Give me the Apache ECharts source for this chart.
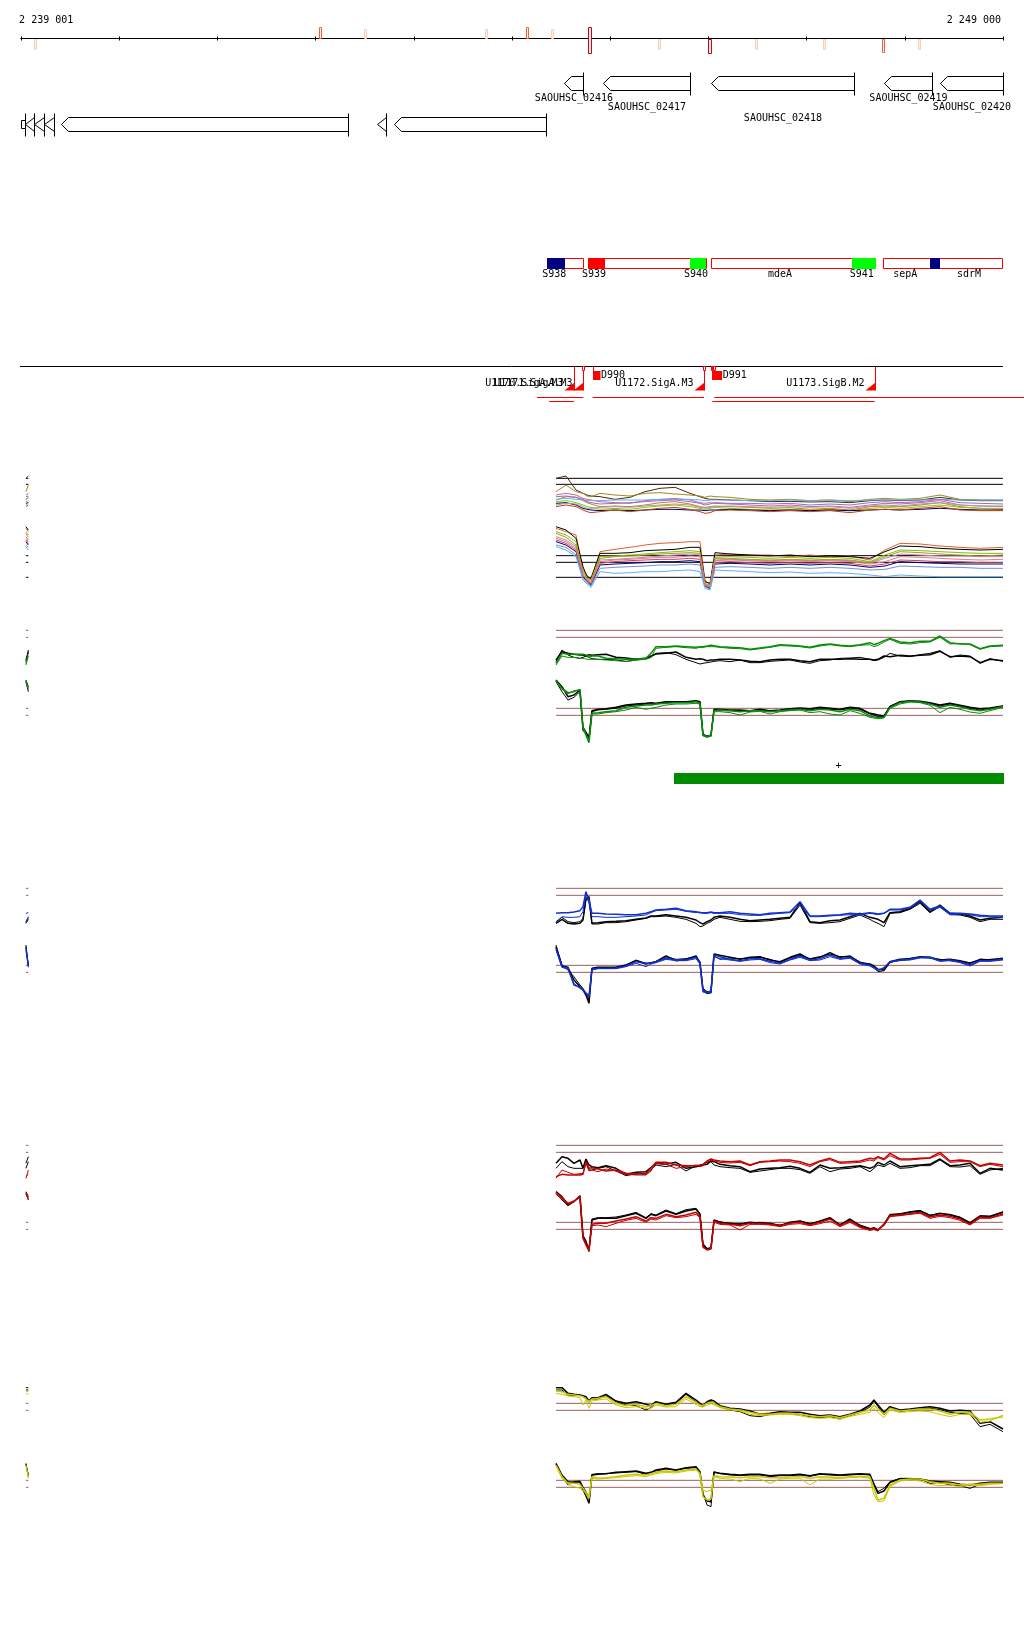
<!DOCTYPE html>
<html>
<head>
<meta charset="utf-8">
<title>SAOUHSC_02416 - SAOUHSC_02420</title>
<script src="https://cdn.jsdelivr.net/npm/echarts@6.0.0/dist/echarts.min.js"></script>
<style>
  html, body { margin: 0; padding: 0; background: #fff; }
  #chart { width: 1024px; height: 1640px; }
</style>
</head>
<body>
<div id="chart"></div>
<script>
// genome window
const axisStart = 2239000
const axisEnd = 2249000
const tickStep = 1000
const endLabelPos = [2239001, 2249000]
const endLabels = ['2 239 001', '2 249 000']

// sites around the axis: dir 1 = above, -1 = below, 0 = both; score 1..3
const sitePos = [2239138, 2242045, 2242503, 2243735, 2244153, 2244407, 2244784, 2245497, 2246006, 2246485, 2247177, 2247778, 2248144]
const siteDir = [-1, 1, 1, 1, 1, 1, 0, -1, -1, -1, -1, -1, -1]
const siteScore = [1, 2, 1, 1, 2, 1, 3, 1, 3, 1, 1, 2, 1]

// genes, strand -1 = reverse, 0 = box only
const geneName = ['SAOUHSC_02416', 'SAOUHSC_02417', 'SAOUHSC_02418', 'SAOUHSC_02419', 'SAOUHSC_02420', '', '', '', '', '', '', '']
const geneStart = [2244529, 2244930, 2246026, 2247788, 2248358, 2239000, 2239036, 2239132, 2239234, 2239407, 2242625, 2242798]
const geneEnd = [2244726, 2245812, 2247482, 2248277, 2249000, 2239036, 2239132, 2239234, 2239336, 2242330, 2242717, 2244346]
const geneLane = [0, 0, 0, 0, 0, 1, 1, 1, 1, 1, 1, 1]
const geneStrand = [-1, -1, -1, -1, -1, 0, -1, -1, -1, -1, -1, -1]

// segments: 0 = outline, 1 = navy, 2 = red, 3 = green
const featStart = [2244356, 2244771, 2246023, 2247781, 2244356, 2244771, 2245809, 2247462, 2248256]
const featEnd = [2244726, 2245968, 2247693, 2248993, 2244532, 2244934, 2245968, 2247693, 2248351]
const featKind = [0, 0, 0, 0, 1, 2, 3, 3, 1]
const featLabel = ['S938', 'S939', 'S940', 'mdeA', 'S941', 'sepA', 'sdrM']
const featLabelPos = [2244431, 2244835, 2245874, 2246729, 2247561, 2248005, 2248653]

// promoters / transcripts
const tssPos = [2244631, 2244723, 2245952, 2247693]
const tssName = ['U1170.SigA.M3', 'U1171.SigA.M3', 'U1172.SigA.M3', 'U1173.SigB.M2']
const startBoxPos = [2244716, 2245942, 2246023, 2246044]
const dStart = [2244825, 2246040]
const dEnd = [2244906, 2246145]
const dName = ['D990', 'D991']
const txStart = [2244254, 2244822, 2246060, 2244377, 2246040]
const txEnd = [2244726, 2245955, 2249214, 2244631, 2247693]
const txLane = [0, 0, 0, 1, 1]
const plusStart = 2245650
const plusEnd = 2249000

// probe positions
const probePos = [2244448, 2244509, 2244570, 2244631, 2244692, 2244723, 2244753, 2244784, 2244814, 2244876,
  2244957, 2245059, 2245161, 2245263, 2245364, 2245415, 2245466, 2245568, 2245670, 2245772,
  2245874, 2245914, 2245945, 2245986, 2246026, 2246057, 2246118, 2246220, 2246322, 2246423,
  2246525, 2246627, 2246729, 2246831, 2246933, 2247034, 2247136, 2247238, 2247340, 2247442,
  2247544, 2247645, 2247686, 2247727, 2247788, 2247849, 2247951, 2248053, 2248155, 2248256,
  2248358, 2248460, 2248562, 2248664, 2248766, 2248867, 2249000]
const probePos1 = [2244448, 2244550, 2244652, 2244723, 2244764, 2244804, 2244896, 2245049, 2245201, 2245354,
  2245507, 2245660, 2245812, 2245914, 2245965, 2246016, 2246067, 2246220, 2246423, 2246627,
  2246831, 2247034, 2247238, 2247442, 2247645, 2247798, 2247951, 2248155, 2248358, 2248562,
  2248766, 2249000]

const refSpan = [2244448, 2249000]
const stubSpan = [2239050, 2239075]
const p1Refs = [350, 332, 118, 98, 53]
const p2Refs = [359, 338, 125, 104]
const p3Refs = [365, 344, 134, 113]
const p4Refs = [359, 338, 128, 107]
const p5Refs = [335, 314, 104, 83]

// panel 1, all conditions
const p1Top1 = [350,357,315,305,300,297,295,287,293,310,320,323,305,295,290,287,287,285,283,280,281,279,280,277,283,285,283,285,293,285,283,283]
const p1Top2 = [310,330,310,305,297,295,305,300,297,305,307,303,300,297,293,297,295,293,287,285,287,283,285,280,287,290,287,290,300,287,285,285]
const p1Top3 = [285,295,293,283,277,273,265,267,265,270,277,280,273,265,263,265,267,265,263,260,262,257,260,255,265,267,265,270,277,265,260,257]
const p1Top4 = [300,305,300,290,287,285,280,277,275,283,287,290,285,277,275,277,275,273,270,267,270,265,267,263,270,275,273,277,283,270,267,265]
const p1Top5 = [287,290,287,285,283,283,283,285,285,285,287,287,287,285,283,285,285,285,283,283,285,283,285,283,285,285,285,285,287,285,285,285]
const p1Top6 = [280,283,277,270,265,263,257,260,257,263,267,270,265,260,257,260,263,260,257,255,257,255,257,253,260,263,260,265,270,263,260,260]
const p1Top7 = [275,277,270,260,257,255,253,255,253,255,257,257,255,255,253,255,255,257,255,253,255,253,255,253,255,257,255,257,260,257,255,255]
const p1Top8 = [265,270,265,255,250,247,250,255,250,255,260,263,257,250,245,247,253,255,253,250,253,250,253,247,255,257,255,260,265,255,253,253]
const p1Top9 = [295,297,293,287,280,277,273,275,277,280,283,285,280,275,270,273,277,275,275,273,275,270,273,270,277,280,277,280,287,277,275,273]
const p1Top10 = [270,275,273,265,260,260,263,265,263,267,270,273,270,263,260,263,265,267,265,263,265,263,265,260,267,270,267,273,277,270,267,267]
const p1Bot1 = [200,190,180,75,60,45,130,137,143,150,155,157,160,160,45,30,120,123,120,120,115,120,115,117,105,135,155,153,147,143,140,143]
const p1Bot2 = [205,195,170,85,55,50,125,125,127,133,135,137,143,143,40,35,127,123,120,117,120,115,117,115,110,130,147,145,140,137,135,137]
const p1Bot3 = [190,180,160,65,50,45,115,117,120,123,127,130,133,130,35,30,113,115,113,110,113,110,113,110,100,120,135,133,130,127,125,125]
const p1Bot4 = [175,165,145,60,45,35,105,107,110,113,117,120,123,120,30,25,105,107,105,103,105,103,105,103,95,110,123,120,117,117,115,115]
const p1Bot5 = [185,173,150,70,53,40,110,115,117,120,123,125,127,125,33,27,110,110,107,105,107,105,107,105,97,115,130,127,123,120,117,120]
const p1Bot6 = [160,150,130,55,40,30,90,93,95,97,100,100,103,100,27,20,93,95,93,90,93,90,93,90,83,87,100,97,95,93,93,93]
const p1Bot7 = [165,155,135,57,43,33,95,100,103,105,107,107,110,107,29,23,97,100,97,95,97,95,97,95,87,93,105,103,100,100,97,97]
const p1Bot8 = [150,143,120,50,37,27,80,83,85,87,90,90,93,90,25,17,83,85,83,80,83,80,83,80,75,77,87,85,83,83,80,80]
const p1Bot9 = [145,135,115,45,33,23,70,65,67,70,70,73,75,70,20,15,75,73,70,67,69,65,67,65,60,55,60,57,55,55,55,55]
const p1Bot10 = [170,160,140,60,47,37,100,105,107,110,113,113,117,115,31,25,103,105,103,100,103,100,103,100,93,100,115,113,110,107,105,107]

// panel 2 (green)
const p2TopGreen = [260,290,287,287,287,287,285,278,282,282,275,274,272,273,275,290,310,310,312,310,308,310,310,312,314,313,310,308,307,302,306,310,316,314,312,308,315,318,314,312,316,322,316,320,328,335,324,322,326,326,342,322,318,318,304,312,314]
const p2TopGreenThin = [255,282,278,278,275,275,273,272,272,272,270,268,265,270,272,278,305,308,310,307,305,308,308,310,310,310,308,305,304,300,304,308,313,312,310,306,312,316,312,310,314,316,310,314,324,332,320,318,322,324,338,318,320,316,302,310,312]
const p2TopBlack = [270,295,290,287,285,285,282,286,284,286,287,278,276,272,275,282,288,290,294,278,272,274,272,268,270,270,272,272,270,266,265,270,272,272,268,265,272,272,272,274,272,272,270,272,282,280,284,282,284,286,296,280,282,280,262,272,268]
const p2TopBlackThin = [265,300,285,278,275,278,282,278,274,272,272,270,266,270,274,278,290,292,286,272,262,258,260,262,264,266,268,265,270,262,262,266,268,270,264,260,268,270,275,276,278,272,268,270,278,290,282,280,286,290,298,278,285,282,260,274,266]
const p2BotBlack = [210,190,160,165,180,60,50,35,118,122,124,128,135,138,140,142,140,145,145,145,148,145,45,40,42,122,122,120,120,118,122,118,120,124,126,124,128,125,122,128,125,110,108,105,102,130,145,148,146,142,135,140,134,128,124,126,132]
const p2BotGreen = [208,185,172,175,182,65,45,22,110,112,115,118,128,132,135,135,138,140,142,142,145,140,45,40,45,118,120,118,115,118,118,115,118,120,122,118,122,120,115,122,118,102,100,97,98,128,142,146,144,138,128,135,130,122,118,122,130]
const p2BotBlackThin = [205,175,150,158,175,70,55,40,115,120,122,125,132,135,138,138,138,142,144,144,145,142,48,42,45,120,118,118,118,116,120,116,118,122,124,120,125,122,120,125,122,108,105,100,100,132,144,146,144,140,132,138,132,125,120,124,132]
const p2BotGreenThin = [205,182,168,178,180,68,48,30,108,108,112,115,120,128,122,125,128,135,138,138,140,138,42,38,42,115,115,112,105,114,116,108,115,118,120,112,115,108,105,118,110,98,96,94,96,125,138,144,142,134,112,128,122,114,110,118,128]

// panel 3 (blue)
const p3TopBlue = [290,292,292,294,298,310,355,330,290,290,288,287,286,286,290,295,300,302,305,298,295,292,292,292,294,292,292,295,290,288,286,290,292,294,325,282,282,284,286,290,288,292,290,288,290,302,302,308,330,302,312,290,290,288,284,282,282]
const p3TopBlueThin = [262,280,278,278,280,295,350,320,280,280,278,278,280,282,285,292,298,300,302,296,292,294,290,290,292,290,290,290,286,284,284,287,290,292,315,280,280,282,284,286,285,290,288,286,290,300,300,306,328,300,308,286,288,286,280,280,278]
const p3TopBlack = [260,272,260,258,260,270,335,340,260,262,265,266,268,272,276,282,282,286,282,278,270,262,258,265,270,278,282,278,272,268,270,272,275,278,322,265,262,268,270,280,290,278,275,272,262,292,295,305,325,295,315,290,288,282,270,275,278]
const p3TopBlackThin = [265,278,265,262,265,275,330,332,258,258,262,262,265,270,275,280,280,282,278,272,260,250,252,260,265,272,278,272,266,265,266,268,272,275,315,262,260,262,265,275,285,272,265,260,250,290,292,302,320,292,310,286,285,278,265,272,272]
const p3BotBlack = [190,132,128,90,70,60,45,20,125,128,128,128,135,148,138,142,145,162,148,152,162,142,60,50,52,168,164,158,152,158,160,150,145,158,168,152,158,172,158,162,142,138,132,122,120,145,152,154,160,158,150,152,148,140,152,150,155]
const p3BotBlue = [185,130,125,75,68,60,50,40,122,125,125,126,132,145,140,140,145,155,150,150,158,140,55,52,55,165,160,152,148,154,154,146,140,152,162,150,154,165,154,158,140,135,128,120,125,145,150,152,158,158,148,150,145,135,148,148,152]
const p3BotBlackThin = [195,135,120,100,75,65,50,30,122,126,126,128,134,150,140,140,146,160,152,154,160,144,65,55,55,162,152,156,154,156,158,152,142,156,164,154,160,168,160,160,144,136,128,115,118,142,150,155,158,156,152,148,145,142,150,152,154]
const p3BotBlueThin = [180,128,122,80,65,58,52,45,120,124,124,124,130,140,130,138,142,152,148,148,154,138,58,54,58,160,154,150,146,150,152,142,138,150,158,148,150,160,152,155,138,132,125,118,128,144,148,150,156,156,146,148,142,132,146,146,150]

// panel 4 (red)
const p4TopBlack = [305,325,320,305,315,290,318,300,295,292,298,290,272,278,280,292,305,302,308,290,295,298,300,302,312,310,302,298,295,280,288,290,292,296,290,278,300,290,292,295,298,290,295,308,300,312,295,298,300,302,318,298,300,305,275,290,285]
const p4TopBlackThin = [290,310,295,290,290,290,315,285,285,290,295,282,268,274,272,285,300,295,302,282,298,295,302,308,310,300,295,292,290,278,282,286,290,290,286,275,295,280,288,290,295,280,290,300,295,305,290,292,298,298,315,295,294,298,272,285,290]
const p4TopRed = [265,272,270,270,270,272,310,290,292,288,282,285,275,272,275,290,308,308,300,298,298,300,302,312,318,315,312,310,312,300,310,312,315,315,310,300,312,320,308,310,312,320,318,325,318,335,318,318,320,322,338,312,315,312,298,305,300]
const p4TopRedThin = [260,285,278,272,274,275,305,282,285,280,288,282,272,270,270,282,305,302,290,295,300,295,298,308,315,312,308,306,308,298,308,310,312,310,305,295,310,316,305,306,308,315,312,322,315,328,315,315,318,320,332,308,310,310,295,302,295]
const p4BotBlack = [220,205,180,190,208,85,70,45,135,140,140,140,148,155,140,152,148,162,152,162,168,152,60,48,50,135,128,125,122,128,125,125,118,128,132,122,132,142,120,138,118,108,112,105,120,150,152,158,162,148,155,150,142,125,146,145,158]
const p4BotRed = [218,202,185,192,205,80,60,42,122,125,125,132,138,145,132,142,140,152,145,150,158,145,55,45,48,132,125,122,118,125,124,122,118,125,128,120,128,138,118,132,115,105,110,104,122,148,150,154,158,144,150,146,138,122,144,142,154]
const p4BotBlackThin = [215,195,178,192,202,90,72,40,138,142,142,144,150,158,142,154,150,165,154,166,170,154,65,50,52,134,130,122,124,126,128,124,120,126,132,125,130,140,122,135,120,110,108,106,124,152,154,160,164,150,154,152,144,128,148,147,160]
const p4BotRedThin = [212,198,182,190,204,82,65,50,118,120,115,125,134,140,128,138,135,148,142,145,152,142,52,46,50,128,122,120,105,122,122,120,115,122,124,118,124,132,115,128,112,104,106,102,120,145,148,152,155,140,146,142,134,120,140,140,150]

// panel 5 (yellow)
const p5TopBlack = [382,382,365,362,360,358,355,342,352,352,362,342,335,340,332,328,340,332,338,365,345,335,328,340,345,342,328,320,318,312,302,305,310,308,308,302,298,300,295,302,312,330,345,330,308,325,315,318,322,325,320,312,314,312,275,280,258]
const p5TopBlackThin = [375,375,358,358,360,355,350,338,348,348,358,340,330,328,315,322,338,330,335,362,340,330,325,338,340,335,325,315,310,298,295,302,305,305,302,295,292,295,288,298,308,324,342,325,300,322,310,315,318,320,316,308,305,302,265,272,250]
const p5TopYellow = [372,370,362,360,358,355,348,340,348,350,355,335,328,332,325,328,335,328,332,355,338,330,328,335,338,335,325,318,315,308,302,302,305,305,302,298,295,298,292,300,308,315,330,318,302,320,312,315,318,318,312,302,308,308,285,288,295]
const p5TopYellowThin = [365,362,358,355,352,330,345,320,342,345,348,330,322,325,320,320,330,324,325,348,332,325,324,330,334,330,322,315,312,302,298,300,302,302,298,292,290,292,288,296,302,308,320,308,292,315,308,310,312,310,302,295,302,302,278,282,300]
const p5BotBlack = [155,120,100,98,100,75,58,35,120,122,124,128,130,132,125,128,135,140,135,142,145,130,60,42,40,128,125,122,120,122,122,118,120,120,122,118,124,122,120,122,124,122,90,65,72,98,108,108,108,102,100,98,92,90,95,98,98]
const p5BotYellow = [150,115,95,95,92,80,65,50,115,110,112,115,120,122,120,124,128,132,130,135,138,125,55,45,48,118,115,114,112,115,115,112,112,115,115,110,115,114,112,115,116,114,80,45,50,90,105,108,108,100,95,95,90,92,92,95,95]
const p5BotBlackThin = [152,115,90,100,102,85,70,50,122,124,124,126,128,130,122,128,132,138,134,140,142,128,65,30,25,130,124,120,118,120,120,115,118,118,120,116,122,120,118,120,122,120,95,70,80,100,110,110,108,95,98,90,88,80,92,95,96]
const p5BotYellowThin = [148,110,92,85,80,72,68,60,110,108,110,112,115,118,115,120,124,128,126,132,135,122,75,70,75,115,110,108,100,110,108,95,108,110,110,90,108,108,110,112,114,110,60,40,42,85,102,105,102,92,88,90,85,90,88,92,94]

const FONT = '10px "DejaVu Sans Mono", monospace'
const half = v => Math.round(v) + 0.5
const xAt = (api, pos) => api.coord([pos, 0])[0]

function renderEnds(params, api) {
  const i = params.dataIndex
  return {
    type: 'text',
    style: { text: endLabels[i], x: xAt(api, api.value(0)) - 2, y: params.coordSys.y - 18.5,
      align: i === 0 ? 'left' : 'right', verticalAlign: 'middle', font: FONT, fill: '#000' }
  }
}

const siteStroke = ['', '#f6cfc0', '#f0603c', '#b0101c']
const siteFill = ['', '#fdeee8', '#fff0ec', '#fde4e4']
const siteUp = [0, 9, 11, 11]
const siteDown = [0, 10, 13, 14]
function renderSite(params, api) {
  const x = Math.round(xAt(api, api.value(0)))
  const dir = api.value(1), s = api.value(2)
  const y0 = Math.floor(params.coordSys.y)
  const top = dir >= 0 ? y0 - siteUp[s] : y0 + 1
  const bottom = dir <= 0 ? y0 + 1 + siteDown[s] : y0
  return {
    type: 'rect',
    shape: { x: x - 0.5, y: top + 0.5, width: s === 3 ? 3 : 2, height: bottom - top },
    style: { fill: siteFill[s], stroke: siteStroke[s], lineWidth: 1 }
  }
}

const geneY = [44.5, 85.5]
const geneLabelY = [59.5, 68.5, 79.5]
function renderGene(params, api) {
  const i = params.dataIndex
  const cs = params.coordSys
  const a = half(xAt(api, api.value(0))), b = half(xAt(api, api.value(1)))
  const cy = cs.y + geneY[api.value(2)]
  const t = half(cy - 7), bt = half(cy + 7), m = (t + bt) / 2
  let points
  if (api.value(3) === 0) points = [[a, t + 3], [b, t + 3], [b, bt - 3], [a, bt - 3]]
  else if (b - a <= 10) points = [[a, m], [b, t], [b, bt]]
  else points = [[a, m], [a + 7, t], [b, t], [b, bt], [a + 7, bt]]
  const children = [
    { type: 'polygon', shape: { points }, style: { fill: '#fff', stroke: '#000', lineWidth: 1 } },
    { type: 'line', shape: { x1: b, y1: t - 4, x2: b, y2: bt + 5 }, style: { stroke: '#000', lineWidth: 1 } }
  ]
  if (geneName[i]) {
    children.push({ type: 'text', style: { text: geneName[i], x: (a + b) / 2, y: cs.y + geneLabelY[i % 3],
      align: 'center', verticalAlign: 'middle', font: FONT, fill: '#000' } })
  }
  return { type: 'group', children }
}

const featColor = ['#fff', '#000080', '#ff0000', '#00ff00']
function renderFeat(params, api) {
  const cs = params.coordSys
  const x1 = xAt(api, api.value(0)), x2 = xAt(api, api.value(1)), k = api.value(2)
  const top = cs.y + 220
  if (k === 0) {
    return { type: 'rect', shape: { x: half(x1), y: top, width: Math.round(x2 - x1), height: 10 },
      style: { fill: '#fff', stroke: '#ff0000', lineWidth: 1 } }
  }
  return { type: 'rect', shape: { x: Math.round(x1), y: top - 0.5, width: Math.round(x2) - Math.round(x1) + 1, height: 11 },
    style: { fill: featColor[k] } }
}
function renderFeatLabel(params, api) {
  return { type: 'text', style: { text: featLabel[params.dataIndex], x: xAt(api, api.value(0)), y: params.coordSys.y + 236.2,
    align: 'center', verticalAlign: 'middle', font: FONT, fill: '#000' } }
}

function renderTrackLine(params, api) {
  const y = params.coordSys.y + 328
  return { type: 'line', shape: { x1: xAt(api, api.value(0)) - 1, y1: y, x2: xAt(api, api.value(1)), y2: y },
    style: { stroke: '#000', lineWidth: 1 } }
}
function renderTss(params, api) {
  const cs = params.coordSys
  const x = half(xAt(api, api.value(0)))
  const y0 = cs.y + 328, y1 = cs.y + 352
  return { type: 'group', children: [
    { type: 'line', shape: { x1: x, y1: y0, x2: x, y2: y1 }, style: { stroke: '#ff0000', lineWidth: 1 } },
    { type: 'polygon', shape: { points: [[x - 10, y1], [x, y1], [x, y1 - 8]] }, style: { fill: '#ff0000' } },
    { type: 'text', style: { text: tssName[params.dataIndex], x: x - 11, y: cs.y + 344.8,
      align: 'right', verticalAlign: 'middle', font: FONT, fill: '#000' } }
  ] }
}
function renderStartBox(params, api) {
  const x = half(xAt(api, api.value(0)))
  return { type: 'rect', shape: { x: x, y: params.coordSys.y + 328, width: 2, height: 4 },
    style: { fill: '#fff', stroke: '#ff0000', lineWidth: 1 } }
}
function renderD(params, api) {
  const cs = params.coordSys
  const x1 = half(xAt(api, api.value(0))), x2 = xAt(api, api.value(1))
  return { type: 'group', children: [
    { type: 'line', shape: { x1: x1, y1: cs.y + 328, x2: x1, y2: cs.y + 333 }, style: { stroke: '#ff0000', lineWidth: 1 } },
    { type: 'rect', shape: { x: x1 - 0.5, y: cs.y + 332.5, width: x2 - x1, height: 9 }, style: { fill: '#ff0000' } },
    { type: 'text', style: { text: dName[params.dataIndex], x: x2, y: cs.y + 337.2,
      align: 'left', verticalAlign: 'middle', font: FONT, fill: '#000' } }
  ] }
}
const txY = [359, 363]
function renderTx(params, api) {
  const y = params.coordSys.y + txY[api.value(2)]
  return { type: 'line', shape: { x1: xAt(api, api.value(0)), y1: y, x2: xAt(api, api.value(1)), y2: y },
    style: { stroke: '#ff0000', lineWidth: 1 } }
}
function renderStrandBar(params, api) {
  const cs = params.coordSys
  const x1 = xAt(api, api.value(0)), x2 = xAt(api, api.value(1))
  const base = cs.y + cs.height
  return { type: 'group', children: [
    { type: 'rect', shape: { x: Math.round(x1), y: base + 23, width: Math.round(x2 - x1) + 1, height: 11 }, style: { fill: '#008c00' } },
    { type: 'text', style: { text: '+', x: (x1 + x2) / 2, y: base + 16, align: 'center', verticalAlign: 'middle', font: FONT, fill: '#000' } }
  ] }
}

function track(data, renderItem, z) {
  return { type: 'custom', xAxisIndex: 1, yAxisIndex: 1, data: data, renderItem: renderItem, silent: true, z: z || 5 }
}
// one curve plus its short copy at the left edge of the window
function curve(g, xs, ys, color, width) {
  return [
    { type: 'line', xAxisIndex: g, yAxisIndex: g, data: xs.map((x, i) => [x, ys[i]]),
      symbol: 'none', showSymbol: false, silent: true, lineStyle: { color: color, width: width || 1 }, z: 3 },
    { type: 'line', xAxisIndex: g, yAxisIndex: g, data: [[stubSpan[0], ys[0]], [stubSpan[1], ys[1]]],
      symbol: 'none', showSymbol: false, silent: true, lineStyle: { color: color, width: 1 }, z: 3 }
  ]
}
function refLines(g, values, color) {
  const out = []
  values.forEach(v => {
    [refSpan, stubSpan].forEach(span => {
      out.push({ type: 'line', xAxisIndex: g, yAxisIndex: g, data: [[span[0], v], [span[1], v]],
        symbol: 'none', silent: true, lineStyle: { color: color, width: 1 }, z: 2 })
    })
  })
  return out
}

const grids = [
  { left: 21, right: 21, top: 0, height: 38.5 },
  { left: 21, right: 21, top: 38.5, height: 400 },
  { left: 21, right: 21, top: 465, height: 130 },
  { left: 21, right: 21, top: 625, height: 125 },
  { left: 21, right: 21, top: 885, height: 125 },
  { left: 21, right: 21, top: 1140, height: 125 },
  { left: 21, right: 21, top: 1380, height: 135 }
]
const yMax = [1, 1, 390, 375, 375, 375, 405]
const brown = '#9c5e5e'

const p1TopColors = ['#4a2a10', '#a08a20', '#e07030', '#d060a0', '#60b0f0', '#80d000', '#000060', '#c04020', '#9070c0', '#a0a0a0']
const p1BotColors = ['#e06030', '#000000', '#80c000', '#c080c0', '#a0a020', '#000080', '#d04060', '#7090d0', '#60b0f0', '#e08080']
const p1Top = [p1Top1, p1Top2, p1Top3, p1Top4, p1Top5, p1Top6, p1Top7, p1Top8, p1Top9, p1Top10]
const p1Bot = [p1Bot1, p1Bot2, p1Bot3, p1Bot4, p1Bot5, p1Bot6, p1Bot7, p1Bot8, p1Bot9, p1Bot10]

function pairPanel(g, color, topC, topCThin, topK, topKThin, botC, botCThin, botK, botKThin) {
  return [].concat(
    curve(g, probePos, topK, '#000', 1.5), curve(g, probePos, topKThin, '#000', 1),
    curve(g, probePos, topC, color, 1.5), curve(g, probePos, topCThin, color, 1),
    curve(g, probePos, botK, '#000', 1.5), curve(g, probePos, botKThin, '#000', 1),
    curve(g, probePos, botC, color, 1.5), curve(g, probePos, botCThin, color, 1)
  )
}

let series = [
  track(endLabelPos.map(p => [p, 0]), renderEnds),
  track(sitePos.map((p, i) => [p, siteDir[i], siteScore[i]]), renderSite, 4),
  track(geneStart.map((s, i) => [s, geneEnd[i], geneLane[i], geneStrand[i]]), renderGene),
  track(featStart.map((s, i) => [s, featEnd[i], featKind[i]]), renderFeat),
  track(featLabelPos.map(p => [p, 0]), renderFeatLabel),
  track([[axisStart, axisEnd]], renderTrackLine),
  track(tssPos.map(p => [p, 0]), renderTss, 6),
  track(startBoxPos.map(p => [p, 0]), renderStartBox, 6),
  track(dStart.map((s, i) => [s, dEnd[i]]), renderD, 6),
  track(txStart.map((s, i) => [s, txEnd[i], txLane[i]]), renderTx),
  { type: 'custom', xAxisIndex: 3, yAxisIndex: 3, data: [[plusStart, plusEnd]], renderItem: renderStrandBar, silent: true, z: 5 }
]
series = series.concat(refLines(2, p1Refs, '#000'))
p1Top.forEach((ys, i) => { series = series.concat(curve(2, probePos1, ys, p1TopColors[i], 1)) })
p1Bot.forEach((ys, i) => { series = series.concat(curve(2, probePos1, ys, p1BotColors[i], 1)) })
series = series
  .concat(refLines(3, p2Refs, brown))
  .concat(pairPanel(3, '#0a8c0a', p2TopGreen, p2TopGreenThin, p2TopBlack, p2TopBlackThin, p2BotGreen, p2BotGreenThin, p2BotBlack, p2BotBlackThin))
  .concat(refLines(4, p3Refs, brown))
  .concat(pairPanel(4, '#1030d0', p3TopBlue, p3TopBlueThin, p3TopBlack, p3TopBlackThin, p3BotBlue, p3BotBlueThin, p3BotBlack, p3BotBlackThin))
  .concat(refLines(5, p4Refs, brown))
  .concat(pairPanel(5, '#c80000', p4TopRed, p4TopRedThin, p4TopBlack, p4TopBlackThin, p4BotRed, p4BotRedThin, p4BotBlack, p4BotBlackThin))
  .concat(refLines(6, p5Refs, brown))
  .concat(pairPanel(6, '#c8c800', p5TopYellow, p5TopYellowThin, p5TopBlack, p5TopBlackThin, p5BotYellow, p5BotYellowThin, p5BotBlack, p5BotBlackThin))

const option = {
  animation: false,
  backgroundColor: '#fff',
  grid: grids,
  xAxis: grids.map((g, i) => ({
    gridIndex: i, type: 'value', min: axisStart, max: axisEnd, interval: tickStep,
    show: i < 2, position: i === 0 ? 'bottom' : 'top',
    axisLine: { show: true, onZero: false, lineStyle: { color: '#000', width: 1 } },
    axisTick: { show: true, length: 2, lineStyle: { color: '#000' } },
    axisLabel: { show: false },
    splitLine: { show: false }
  })),
  yAxis: grids.map((g, i) => ({
    gridIndex: i, type: 'value', min: 0, max: yMax[i], show: false, splitLine: { show: false }
  })),
  series: series
}

const myChart = echarts.init(document.getElementById('chart'))
myChart.setOption(option)
</script>
</body>
</html>
